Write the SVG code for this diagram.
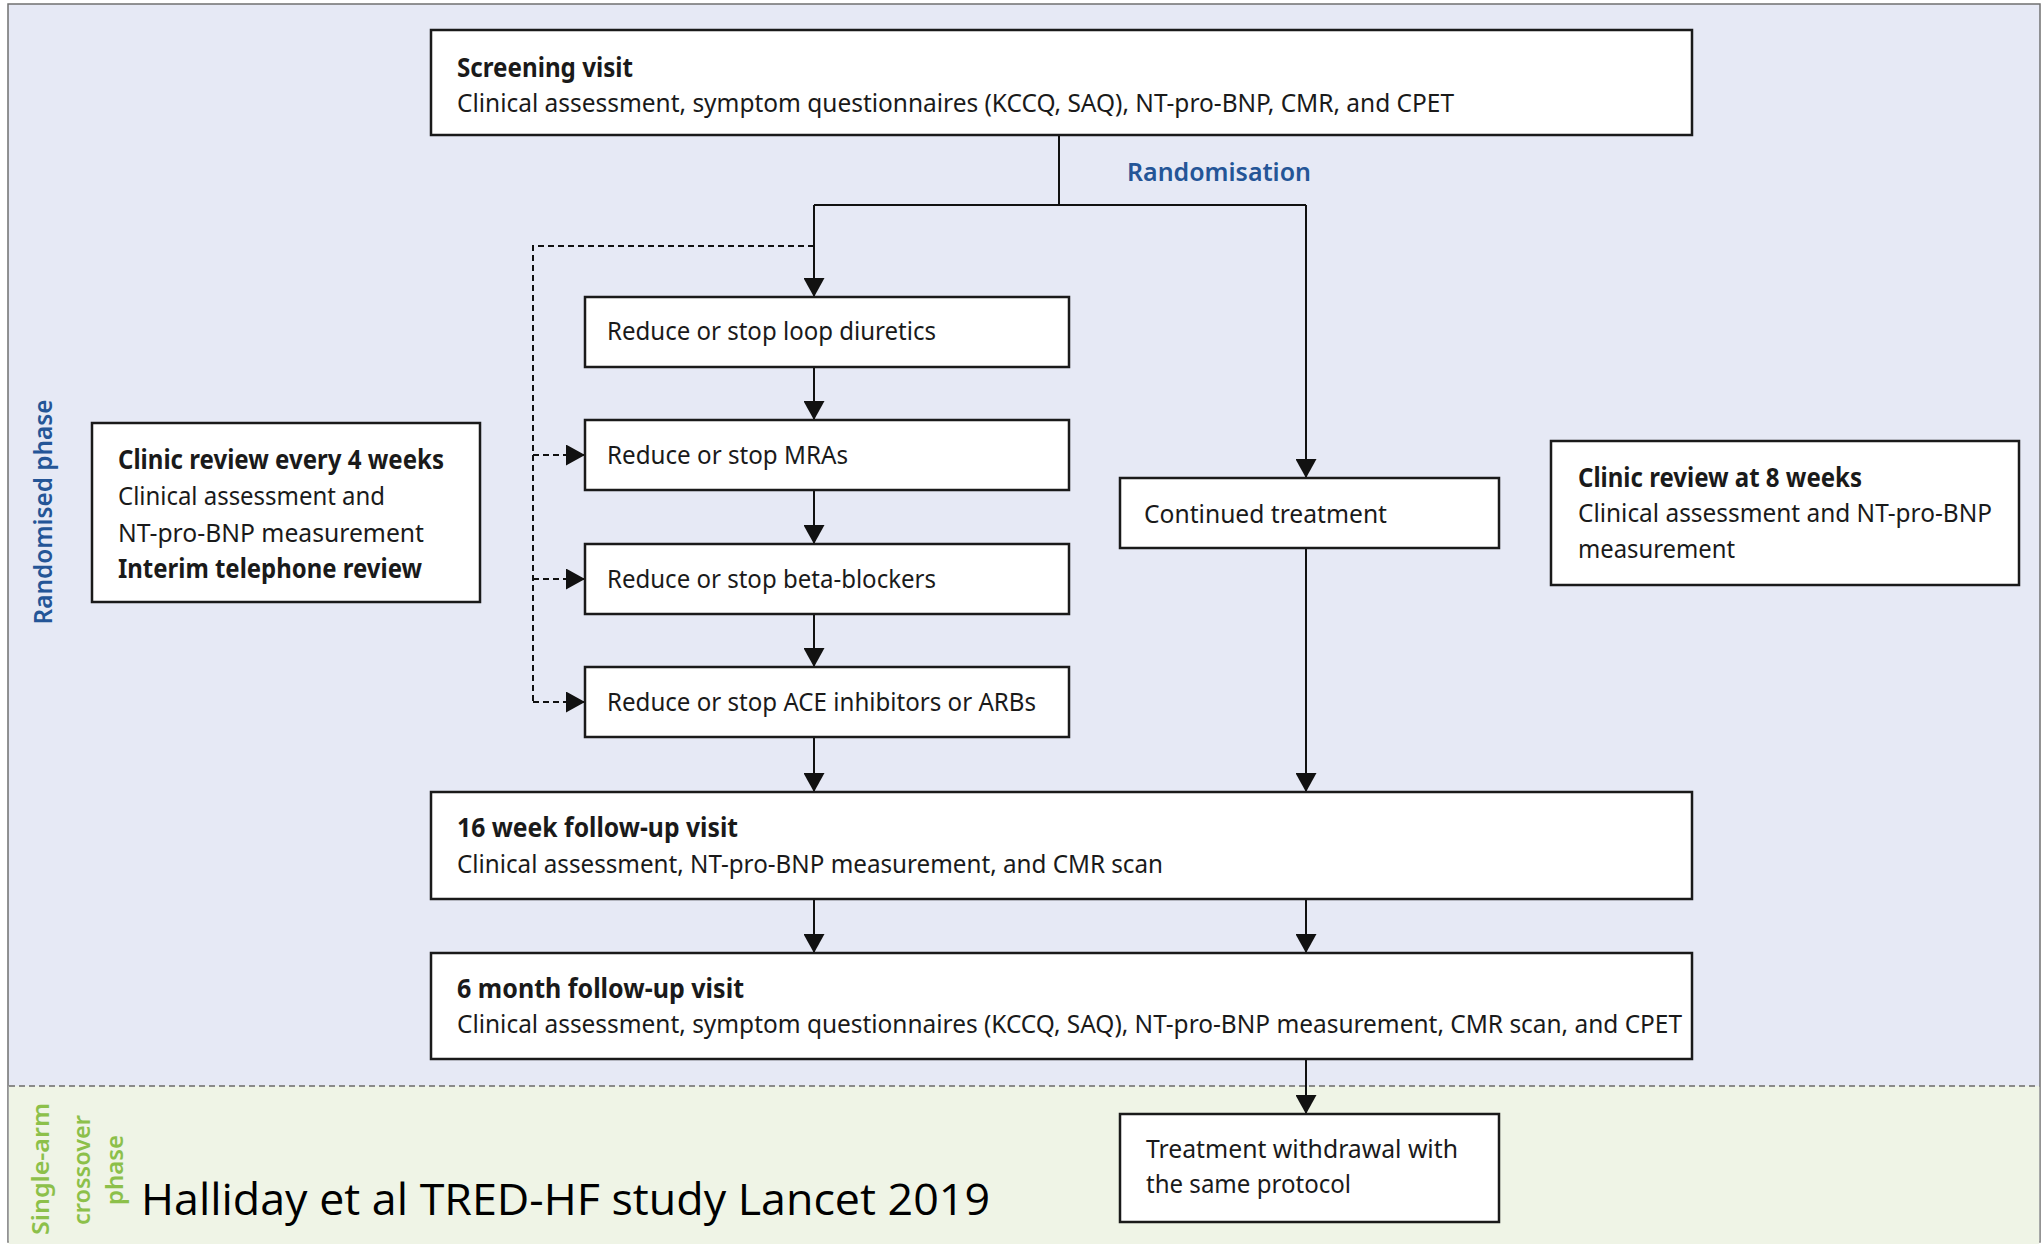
<svg xmlns="http://www.w3.org/2000/svg" width="2043" height="1244" viewBox="0 0 2043 1244">
<style>
.box{fill:#ffffff;stroke:#1a1a1a;stroke-width:2.5}
.t{font-family:"Noto Sans","Liberation Sans",sans-serif;font-size:26px;fill:#1a1a1a}
.b{font-weight:700}
.c{fill:none;stroke:#111;stroke-width:2}
.d{fill:none;stroke:#111;stroke-width:2;stroke-dasharray:6 4}
.blue{font-family:"Noto Sans","Liberation Sans",sans-serif;font-size:25px;font-weight:600;fill:#245597}
.green{font-family:"Noto Sans","Liberation Sans",sans-serif;font-size:23px;font-weight:600;fill:#8cc04a}
</style>
<defs>
<marker id="ah" markerUnits="userSpaceOnUse" viewBox="0 0 19 21" refX="19" refY="10.5" markerWidth="19" markerHeight="21" orient="auto">
<path d="M0,0 L19,10.5 L0,21 z" fill="#111"/>
</marker>
</defs>

<g id="background">
<rect x="8" y="4" width="2032" height="1238" fill="#e6e9f5" stroke="#707070" stroke-width="1.5"/>
<rect x="8.75" y="1086" width="2030.5" height="1155.25" fill="#eff4e6"/>
<line x1="9" y1="1086" x2="2040" y2="1086" stroke="#8a8a8a" stroke-width="2" stroke-dasharray="6 4"/>
</g>

<g id="phase-labels">
<text class="blue" transform="translate(52,512) rotate(-90)" text-anchor="middle" textLength="225" lengthAdjust="spacingAndGlyphs">Randomised phase</text>
<text class="green" transform="translate(49,1169) rotate(-90)" text-anchor="middle" textLength="132" lengthAdjust="spacingAndGlyphs">Single-arm</text>
<text class="green" transform="translate(90,1170) rotate(-90)" text-anchor="middle" textLength="110" lengthAdjust="spacingAndGlyphs">crossover</text>
<text class="green" transform="translate(123,1170) rotate(-90)" text-anchor="middle" textLength="70" lengthAdjust="spacingAndGlyphs">phase</text>
</g>

<g id="connectors">
<line class="c" x1="1059" y1="135" x2="1059" y2="205"/>
<line class="c" x1="814" y1="205" x2="1306" y2="205"/>
<line class="c" x1="814" y1="205" x2="814" y2="297" marker-end="url(#ah)"/>
<line class="c" x1="1306" y1="205" x2="1306" y2="478" marker-end="url(#ah)"/>
<polyline class="d" points="814,246 533,246 533,702"/>
<line class="d" x1="533" y1="455" x2="585" y2="455" marker-end="url(#ah)"/>
<line class="d" x1="533" y1="579" x2="585" y2="579" marker-end="url(#ah)"/>
<line class="d" x1="533" y1="702" x2="585" y2="702" marker-end="url(#ah)"/>
<line class="c" x1="814" y1="367" x2="814" y2="420" marker-end="url(#ah)"/>
<line class="c" x1="814" y1="490" x2="814" y2="544" marker-end="url(#ah)"/>
<line class="c" x1="814" y1="614" x2="814" y2="667" marker-end="url(#ah)"/>
<line class="c" x1="814" y1="737" x2="814" y2="792" marker-end="url(#ah)"/>
<line class="c" x1="1306" y1="548" x2="1306" y2="792" marker-end="url(#ah)"/>
<line class="c" x1="814" y1="899" x2="814" y2="953" marker-end="url(#ah)"/>
<line class="c" x1="1306" y1="899" x2="1306" y2="953" marker-end="url(#ah)"/>
<line class="c" x1="1306" y1="1059" x2="1306" y2="1114" marker-end="url(#ah)"/>
<text class="blue" x="1127" y="181" textLength="184" lengthAdjust="spacingAndGlyphs">Randomisation</text>
</g>

<g id="screening">
<rect class="box" x="431" y="30" width="1261" height="105"/>
<text class="t b" x="457" y="77" textLength="176" lengthAdjust="spacingAndGlyphs">Screening visit</text>
<text class="t" x="457" y="112" textLength="997" lengthAdjust="spacingAndGlyphs">Clinical assessment, symptom questionnaires (KCCQ, SAQ), NT-pro-BNP, CMR, and CPET</text>
</g>

<g id="loop-diuretics">
<rect class="box" x="585" y="297" width="484" height="70"/>
<text class="t" x="607" y="340" textLength="329" lengthAdjust="spacingAndGlyphs">Reduce or stop loop diuretics</text>
</g>

<g id="mras">
<rect class="box" x="585" y="420" width="484" height="70"/>
<text class="t" x="607" y="464" textLength="241" lengthAdjust="spacingAndGlyphs">Reduce or stop MRAs</text>
</g>

<g id="beta-blockers">
<rect class="box" x="585" y="544" width="484" height="70"/>
<text class="t" x="607" y="588" textLength="329" lengthAdjust="spacingAndGlyphs">Reduce or stop beta-blockers</text>
</g>

<g id="ace-inhibitors">
<rect class="box" x="585" y="667" width="484" height="70"/>
<text class="t" x="607" y="711" textLength="429" lengthAdjust="spacingAndGlyphs">Reduce or stop ACE inhibitors or ARBs</text>
</g>

<g id="continued-treatment">
<rect class="box" x="1120" y="478" width="379" height="70"/>
<text class="t" x="1144" y="523" textLength="243" lengthAdjust="spacingAndGlyphs">Continued treatment</text>
</g>

<g id="clinic-review-4-weeks">
<rect class="box" x="92" y="423" width="388" height="179"/>
<text class="t b" x="118" y="469" textLength="326" lengthAdjust="spacingAndGlyphs">Clinic review every 4 weeks</text>
<text class="t" x="118" y="505" textLength="267" lengthAdjust="spacingAndGlyphs">Clinical assessment and</text>
<text class="t" x="118" y="542" textLength="306" lengthAdjust="spacingAndGlyphs">NT-pro-BNP measurement</text>
<text class="t b" x="118" y="578" textLength="304" lengthAdjust="spacingAndGlyphs">Interim telephone review</text>
</g>

<g id="clinic-review-8-weeks">
<rect class="box" x="1551" y="441" width="468" height="144"/>
<text class="t b" x="1578" y="487" textLength="284" lengthAdjust="spacingAndGlyphs">Clinic review at 8 weeks</text>
<text class="t" x="1578" y="522" textLength="414" lengthAdjust="spacingAndGlyphs">Clinical assessment and NT-pro-BNP</text>
<text class="t" x="1578" y="558" textLength="157" lengthAdjust="spacingAndGlyphs">measurement</text>
</g>

<g id="followup-16-weeks">
<rect class="box" x="431" y="792" width="1261" height="107"/>
<text class="t b" x="457" y="837" textLength="281" lengthAdjust="spacingAndGlyphs">16 week follow-up visit</text>
<text class="t" x="457" y="873" textLength="706" lengthAdjust="spacingAndGlyphs">Clinical assessment, NT-pro-BNP measurement, and CMR scan</text>
</g>

<g id="followup-6-months">
<rect class="box" x="431" y="953" width="1261" height="106"/>
<text class="t b" x="457" y="998" textLength="287" lengthAdjust="spacingAndGlyphs">6 month follow-up visit</text>
<text class="t" x="457" y="1033" textLength="1225" lengthAdjust="spacingAndGlyphs">Clinical assessment, symptom questionnaires (KCCQ, SAQ), NT-pro-BNP measurement, CMR scan, and CPET</text>
</g>

<g id="treatment-withdrawal">
<rect class="box" x="1120" y="1114" width="379" height="108"/>
<text class="t" x="1146" y="1158" textLength="312" lengthAdjust="spacingAndGlyphs">Treatment withdrawal with</text>
<text class="t" x="1146" y="1193" textLength="205" lengthAdjust="spacingAndGlyphs">the same protocol</text>
</g>

<g id="citation">
<text x="141" y="1215" font-family="'Open Sans','Liberation Sans',sans-serif" font-size="44" fill="#000" textLength="849" lengthAdjust="spacingAndGlyphs">Halliday et al TRED-HF study Lancet 2019</text>
</g>
</svg>
